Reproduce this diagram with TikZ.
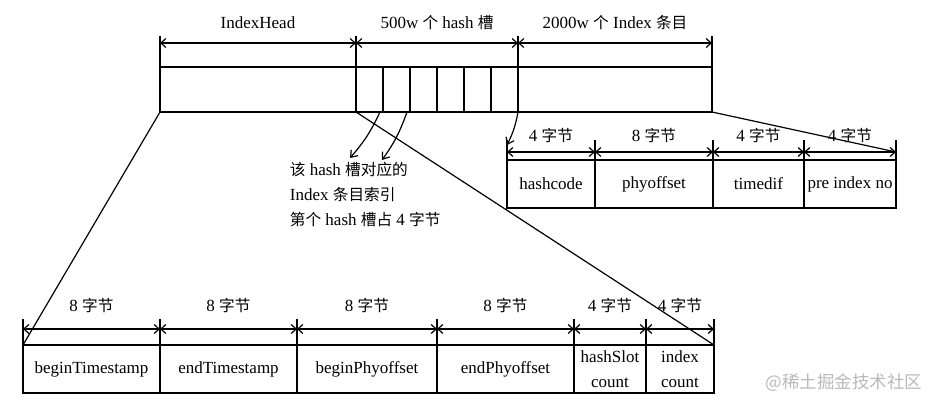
\documentclass[tikz,border=0pt]{standalone}
\usepackage{fontspec}
\setmainfont{Liberation Serif}
\newfontfamily\cjk[Scale=0.92]{Noto Sans CJK SC}
\newcommand\zh[1]{{\cjk #1}}
\usepackage{tikz}
\usetikzlibrary{positioning,arrows.meta}

\begin{document}
\begin{tikzpicture}[x=1pt, y=-1pt, line width=1.2pt,
  font=\fontsize{17}{25}\selectfont,
  cell/.style={draw, inner sep=0pt, outer sep=0pt, minimum height=48, align=center},
  bar/.style={cell, minimum height=45},
  dim/.style={{Straight Barb[length=5pt,width=9pt]}-{Straight Barb[length=5pt,width=9pt]}},
  ptr/.style={-{Straight Barb[length=6pt,width=9pt]}}]
\useasboundingbox (0,0) rectangle (941,406);
% index file layout
\node[bar, minimum width=196, anchor=north west] (head) at (160,67) {};
\node[bar, minimum width=27, right=0pt of head] (s1) {};
\foreach \i [remember=\i as \p (initially 1)] in {2,...,6}
  \node[bar, minimum width=27, right=0pt of s\p] (s\i) {};
\node[bar, minimum width=194, right=0pt of s6] (idx) {};
\foreach \c in {head.north west, s1.north west, s6.north east, idx.north east}
  \draw (\c) -- ++(0,-31);
\draw[dim] ([yshift=24pt]head.north west) -- node[yshift=20pt] {IndexHead} ([yshift=24pt]head.north east);
\draw[dim] ([yshift=24pt]s1.north west) -- node[yshift=20pt] {500w \zh{个} hash \zh{槽}} ([yshift=24pt]s6.north east);
\draw[dim] ([yshift=24pt]idx.north west) -- node[yshift=20pt] {2000w \zh{个} Index \zh{条目}} ([yshift=24pt]idx.north east);
% index entry
\node[cell, minimum width=88, anchor=north west] (hc) at (507,160) {hashcode};
\node[cell, minimum width=118, right=0pt of hc] (po) {phyoffset};
\node[cell, minimum width=91, right=0pt of po] (td) {timedif};
\node[cell, minimum width=92, right=0pt of td] (pin) {pre index no};
\foreach \c in {hc,po,td,pin} \draw (\c.north west) -- ++(0,-20);
\draw (pin.north east) -- ++(0,-20);
\foreach \c/\t in {hc/4,po/8,td/4,pin/4}
  \draw[dim] ([yshift=8pt]\c.north west) -- node[yshift=17pt] {\t\ \zh{字节}} ([yshift=8pt]\c.north east);
\draw (idx.south east) -- ([yshift=8pt]pin.north east);
\draw[ptr] (s6.south east) to[bend left=8] ([yshift=15pt]hc.north west);
% hash slot note
\node[anchor=north west, align=left] (note) at (286,158) {\zh{该} hash \zh{槽对应的}\\Index \zh{条目索引}\\\zh{第个} hash \zh{槽占} 4 \zh{字节}};
\coordinate (n1) at (350,158);
\coordinate (n2) at (382,160);
\draw[ptr] ([xshift=-3pt]s1.south east) to[bend left=8] (n1);
\draw[ptr] ([xshift=-3pt]s2.south east) to[bend left=8] (n2);
% index head
\node[cell, minimum width=137, anchor=north west] (bts) at (23,345) {beginTimestamp};
\node[cell, minimum width=137, right=0pt of bts] (ets) {endTimestamp};
\node[cell, minimum width=140, right=0pt of ets] (bpo) {beginPhyoffset};
\node[cell, minimum width=137, right=0pt of bpo] (epo) {endPhyoffset};
\node[cell, minimum width=72, right=0pt of epo] (hsc) {hashSlot\\count};
\node[cell, minimum width=68, right=0pt of hsc] (ic) {index\\count};
\foreach \c in {bts,ets,bpo,epo,hsc,ic} \draw (\c.north west) -- ++(0,-26);
\draw (ic.north east) -- ++(0,-26);
\foreach \c/\t in {bts/8,ets/8,bpo/8,epo/8,hsc/4,ic/4}
  \draw[dim] ([yshift=16pt]\c.north west) -- node[yshift=24pt] {\t\ \zh{字节}} ([yshift=16pt]\c.north east);
\draw (head.south west) -- (bts.north west);
\draw (head.south east) -- (ic.north east);
% watermark
\node[anchor=west, text=gray!55, font=\cjk\fontsize{19}{22}\selectfont] (wm) at (762,383) {@稀土掘金技术社区};
\end{tikzpicture}
\end{document}
